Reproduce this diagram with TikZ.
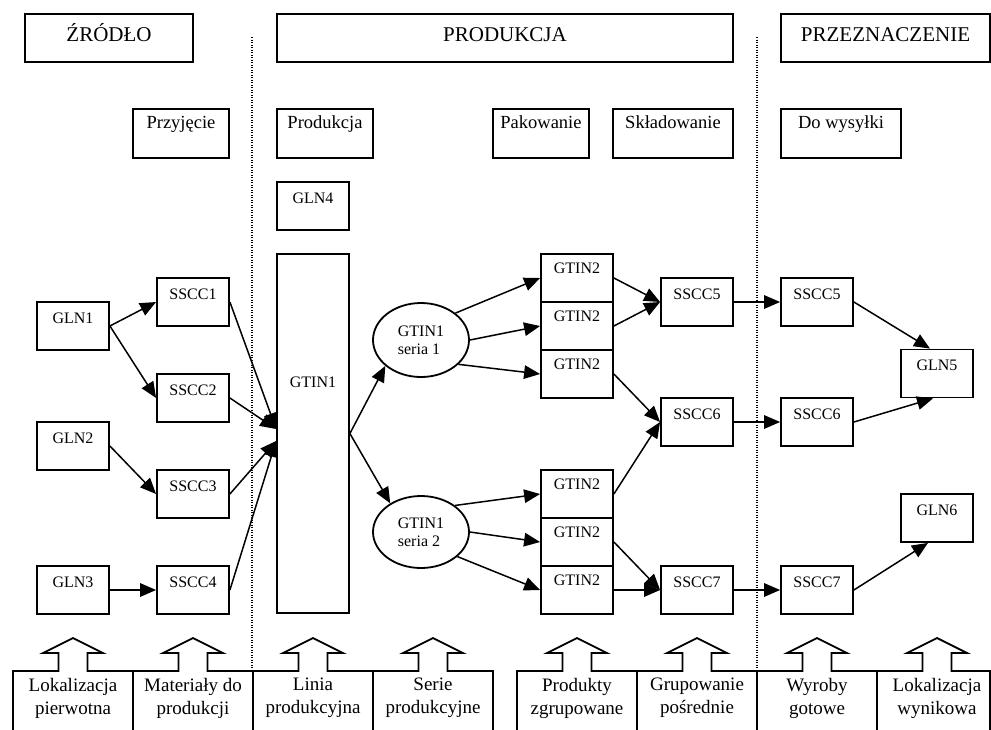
\documentclass[tikz,border=0pt]{standalone}
\usepackage{fontspec}
\setmainfont{Liberation Serif}
\usetikzlibrary{arrows.meta,shapes.geometric}
\begin{document}
\begin{tikzpicture}[x=1pt,y=-1pt,line join=miter,>={Triangle[length=16pt,width=13.5pt]},
		hdr/.style={draw,line width=1.8pt,inner sep=0pt,minimum height=48pt,text height=27pt,text depth=21pt,font=\fontsize{21}{25}\selectfont},
		stage/.style={draw,line width=1.8pt,inner sep=0pt,minimum width=96pt,text height=19pt,text depth=30pt,font=\fontsize{18.5}{22}\selectfont},
		box/.style={draw,line width=1.8pt,inner sep=0pt,minimum width=72pt,text height=21pt,text depth=27pt,font=\fontsize{16}{18}\selectfont},
		gbox/.style={box,text height=19pt,text depth=29pt},
		ser/.style={draw,ellipse,line width=1.8pt,inner sep=0pt,minimum width=96pt,minimum height=74pt,align=left,font=\fontsize{16}{18}\selectfont},
		arr/.style={->,line width=1.5pt},
		sep/.style={line width=1.3pt,dash pattern=on 1.3pt off 1.2pt},
		foot/.style={anchor=north,inner sep=0pt,align=center,font=\fontsize{19}{23}\selectfont}]
	\useasboundingbox (0,0) rectangle (991,729);
	\clip (0,0) rectangle (991,729);
	\draw[sep] (252,37)--(252,671);
	\draw[sep] (757,37)--(757,671);
	\node[hdr,minimum width=168pt] (zrodlo) at (109,38) {ŹRÓDŁO};
	\node[hdr,minimum width=456pt] (produkcja) at (505,38) {PRODUKCJA};
	\node[hdr,minimum width=209pt] (przezn) at (885.5,38) {PRZEZNACZENIE};
	\node[stage] (przyj) at (181,133.5) {Przyjęcie};
	\node[stage] (prod) at (325,133.5) {Produkcja};
	\node[stage] (pak) at (541,133.5) {Pakowanie};
	\node[stage,minimum width=120pt] (sklad) at (673,133.5) {Składowanie};
	\node[stage,minimum width=120pt] (wys) at (841,133.5) {Do wysyłki};
	\node[box] (gln4) at (313,206) {GLN4};
	\node[box] (gln1) at (73,326) {GLN1};
	\node[box] (gln2) at (73,446) {GLN2};
	\node[box] (gln3) at (73,590) {GLN3};
	\node[box] (sscc1) at (193,302) {SSCC1};
	\node[box] (sscc2) at (193,398) {SSCC2};
	\node[box] (sscc3) at (193,494) {SSCC3};
	\node[box] (sscc4) at (193,590) {SSCC4};
	\node[box,text height=133pt,text depth=226pt] (gtin1) at (313,433.5) {GTIN1};
	\node[ser] (s1) at (421,340) {GTIN1\\seria 1};
	\node[ser,minimum height=72pt] (s2) at (421,532) {GTIN1\\seria 2};
	\node[gbox] (g1) at (577,278) {GTIN2};
	\node[gbox] (g2) at (577,326) {GTIN2};
	\node[gbox] (g3) at (577,374) {GTIN2};
	\node[gbox] (g4) at (577,494) {GTIN2};
	\node[gbox] (g5) at (577,542) {GTIN2};
	\node[gbox] (g6) at (577,590) {GTIN2};
	\node[box] (sscc5) at (697,302) {SSCC5};
	\node[box] (sscc6) at (697,422) {SSCC6};
	\node[box] (sscc7) at (697,590) {SSCC7};
	\node[box] (sscc5b) at (817,302) {SSCC5};
	\node[box] (sscc6b) at (817,422) {SSCC6};
	\node[box] (sscc7b) at (817,590) {SSCC7};
	\node[box] (gln5) at (937,373.5) {GLN5};
	\node[box] (gln6) at (937,518) {GLN6};
	\draw[arr] (gln1.east)--(sscc1.west);
	\draw[arr] (gln1.east)--(sscc2.west);
	\draw[arr] (gln2.east)--(sscc3.west);
	\draw[arr] (gln3.east)--(sscc4.west);
	\draw[arr] (sscc1.east)--([yshift=4.5pt]gtin1.west);
	\draw[arr] (sscc2.east)--([yshift=4.5pt]gtin1.west);
	\draw[arr] (sscc3.east)--([yshift=-7.5pt]gtin1.west);
	\draw[arr] (sscc4.east)--([yshift=-7.5pt]gtin1.west);
	\draw[arr] (gtin1.east)--(s1.216);
	\draw[arr] (gtin1.east)--(s2.137);
	\draw[arr] (s1.38)--(g1.west);
	\draw[arr] (s1.east)--(g2.west);
	\draw[arr] (s1.-33)--(g3.west);
	\draw[arr] (s2.38)--(g4.west);
	\draw[arr] (s2.east)--(g5.west);
	\draw[arr] (s2.-34)--(g6.west);
	\draw[arr] (g1.east)--(sscc5.west);
	\draw[arr] (g2.east)--(sscc5.west);
	\draw[arr] (g3.east)--(sscc6.west);
	\draw[arr] (g4.east)--(sscc6.west);
	\draw[arr] (g5.east)--(sscc7.west);
	\draw[arr] (g6.east)--(sscc7.west);
	\draw[arr] (sscc5.east)--(sscc5b.west);
	\draw[arr] (sscc6.east)--(sscc6b.west);
	\draw[arr] (sscc7.east)--(sscc7b.west);
	\draw[arr] (sscc5b.east)--([xshift=-7pt]gln5.north);
	\draw[arr] (sscc6b.east)--([xshift=-4pt]gln5.south);
	\draw[arr] (sscc7b.east)--([xshift=-9pt]gln6.south);
	\foreach \x/\w in {13/120,133/120,253/120,373/120,517/120,637/120,757/120,877/113}
		\draw[line width=1.8pt] (\x,740)--(\x,671)--(\x+45.5,671)--(\x+45.5,653)--(\x+30,653)--(\x+60,638)
			--(\x+90,653)--(\x+74.5,653)--(\x+74.5,671)--(\x+\w,671)--(\x+\w,740);
	\node[foot] (f1) at (73,678) {Lokalizacja\\pierwotna};
	\node[foot] (f2) at (193,678) {Materiały do\\produkcji};
	\node[foot] (f3) at (313,678) {Linia\\produkcyjna};
	\node[foot] (f4) at (433,678) {Serie\\produkcyjne};
	\node[foot] (f5) at (577,678) {Produkty\\zgrupowane};
	\node[foot] (f6) at (697,678) {Grupowanie\\pośrednie};
	\node[foot] (f7) at (817,678) {Wyroby\\gotowe};
	\node[foot] (f8) at (937,678) {Lokalizacja\\wynikowa};
\end{tikzpicture}
\end{document}
